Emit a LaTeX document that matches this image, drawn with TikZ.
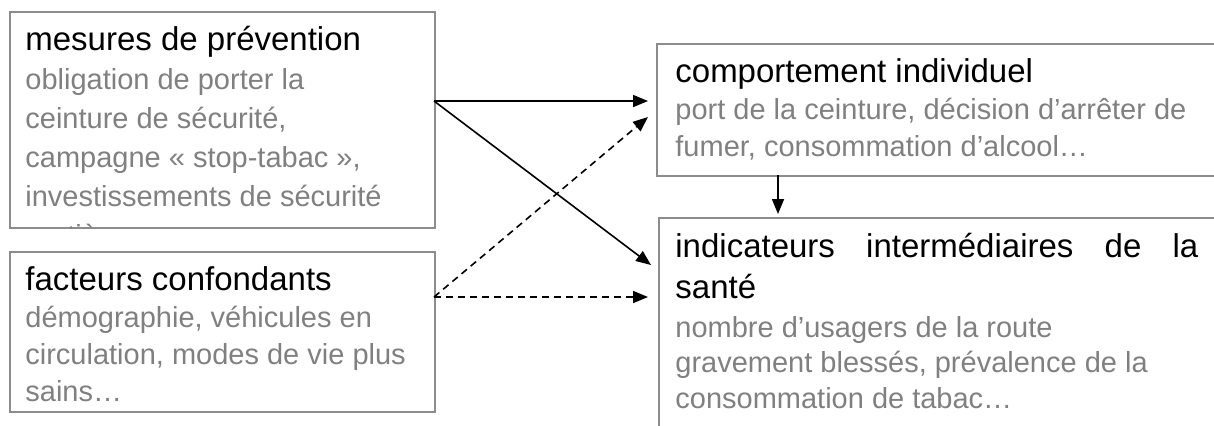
\documentclass[tikz,border=0pt]{standalone}
\usepackage{fontspec}
\setmainfont{Liberation Sans}
\usetikzlibrary{arrows.meta,positioning}
\definecolor{framegray}{RGB}{140,140,140}
\definecolor{notegray}{RGB}{128,128,128}

\begin{document}
\begin{tikzpicture}[x=0.5pt, y=-0.5pt,
  box/.style={draw=framegray, line width=0.75pt, anchor=north west, inner sep=0pt},
  head/.style={anchor=base west, inner sep=0pt, align=left, font=\fontsize{16.5}{20.5}\selectfont},
  note/.style={anchor=base west, inner sep=0pt, align=left, text=notegray, font=\fontsize{14.5}{18.5}\selectfont},
  link/.style={-{Triangle[length=7.5pt,width=6pt]}, line width=0.8pt},
  dlink/.style={link, dash pattern=on 3.5pt off 2.5pt}]
\useasboundingbox (0,0) rectangle (1214,425);
\clip (0,0) rectangle (1214,425);

% Left side (multi-line texts sit on their last baseline)
\node[box, minimum width=212.5pt, minimum height=108pt] (prev) at (9,11) {};
\node[head] (prevHead) at (25,50) {mesures de prévention};
\begin{scope}
\clip (prev.north west) rectangle (prev.south east);
\node[note, font=\fontsize{14.5}{19.5}\selectfont] (prevNote) at (25,245) {obligation de porter la\\
ceinture de sécurité,\\
campagne «~stop-tabac~»,\\
investissements de sécurité\\
routière…};
\end{scope}

\node[box, minimum width=212.5pt, minimum height=80pt] (conf) at (9,251) {};
\node[head] (confHead) at (25,290) {facteurs confondants};
\node[note] (confNote) at (25,401) {démographie, véhicules en\\
circulation, modes de vie plus\\
sains…};

% Right side
\node[box, minimum width=287pt, minimum height=66pt] (comp) at (656,43) {};
\node[head] (compHead) at (675,82) {comportement individuel};
\node[note] (compNote) at (675,156) {port de la ceinture, décision d’arrêter de\\
fumer, consommation d’alcool…};

\node[box, minimum width=286pt, minimum height=114pt] (ind) at (658,217) {};
\node[head] (indHead) at (675,298) {\makebox[261.5pt][s]{indicateurs intermédiaires de la}\\
santé};
\node[note, font=\fontsize{14.5}{17.75}\selectfont] (indNote) at (675,408) {nombre d’usagers de la route\\
gravement blessés, prévalence de la\\
consommation de tabac…};

% Arrows
\coordinate (prevOut) at (434,101);
\coordinate (confOut) at (434,297);
\coordinate (compIn) at (648,101);
\coordinate (compIn2) at (648,117);
\coordinate (indIn) at (651,265);
\coordinate (indIn2) at (648,297);
\coordinate (compOut) at (778,175);
\coordinate (indTop) at (778,214);
\draw[link] (prevOut) -- (compIn);
\draw[link] (prevOut) -- (indIn);
\draw[dlink] (confOut) -- (compIn2);
\draw[dlink] (confOut) -- (indIn2);
\draw[link] (compOut) -- (indTop);
\end{tikzpicture}
\end{document}
